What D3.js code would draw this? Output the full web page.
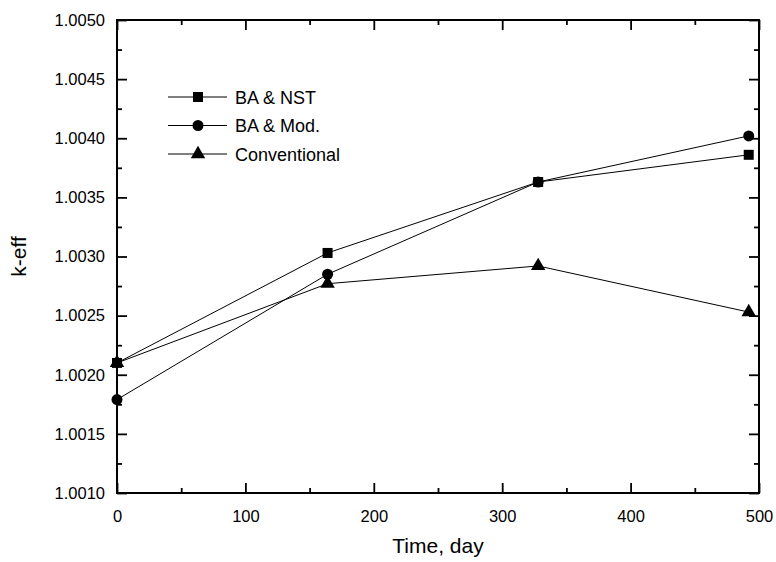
<!DOCTYPE html>
<html>
<head>
<meta charset="utf-8">
<script src="https://cdn.jsdelivr.net/npm/d3@7"></script>
<style>
  body { margin: 0; background: #fff; }
  text { font-family: Arial, "Liberation Sans", sans-serif; fill: #000; }
</style>
</head>
<body>
<div id="chart"></div>
<script>
// data
var days = [0, 164, 328, 492];
var baNst = [1.00210, 1.00303, 1.00363, 1.00386];
var baMod = [1.00179, 1.00285, 1.00363, 1.00402];
var conventional = [1.00210, 1.00277, 1.00292, 1.00253];
var seriesNames = ["BA & NST", "BA & Mod.", "Conventional"];
var xTicks = [0, 100, 200, 300, 400, 500];
var yTicks = [1.0010, 1.0015, 1.0020, 1.0025, 1.0030, 1.0035, 1.0040, 1.0045, 1.0050];

var margin = {top: 20, right: 17, bottom: 69, left: 117},
    width = 776 - margin.left - margin.right,
    height = 562 - margin.top - margin.bottom;

var svg = d3.select("#chart")
  .append("svg")
    .attr("width", 776)
    .attr("height", 562)
  .append("g")
    .attr("transform", "translate(" + margin.left + "," + margin.top + ")");

var x = d3.scaleLinear().domain([0, 500]).range([0, width]);
var y = d3.scaleLinear().domain([1.0010, 1.0050]).range([height, 0]);

// minor ticks
var xMinor = d3.range(50, 500, 100);
var yMinor = d3.range(0, 8).map(function(i) { return 1.00125 + i * 0.0005; });

function tickStyle(g) {
  g.select(".domain").remove();
  g.selectAll(".tick line").attr("stroke", "#000").attr("stroke-width", 1.8);
}

// bottom axis with labels
svg.append("g")
  .attr("transform", "translate(0," + height + ")")
  .call(d3.axisBottom(x).tickValues(xTicks).tickSize(-10).tickPadding(17).tickFormat(d3.format("d")))
  .call(tickStyle)
  .call(function(g) { g.selectAll("text").attr("font-size", 16.5); });
svg.append("g")
  .attr("transform", "translate(0," + height + ")")
  .call(d3.axisBottom(x).tickValues(xMinor).tickSize(-5).tickFormat(""))
  .call(tickStyle);

// top axis
svg.append("g")
  .call(d3.axisTop(x).tickValues(xTicks).tickSize(-10).tickFormat(""))
  .call(tickStyle);
svg.append("g")
  .call(d3.axisTop(x).tickValues(xMinor).tickSize(-5).tickFormat(""))
  .call(tickStyle);

// left axis with labels
svg.append("g")
  .call(d3.axisLeft(y).tickValues(yTicks).tickSize(-10).tickPadding(12).tickFormat(d3.format(".4f")))
  .call(tickStyle)
  .call(function(g) { g.selectAll("text").attr("font-size", 16.5); });
svg.append("g")
  .call(d3.axisLeft(y).tickValues(yMinor).tickSize(-5).tickFormat(""))
  .call(tickStyle);

// right axis
svg.append("g")
  .attr("transform", "translate(" + width + ",0)")
  .call(d3.axisRight(y).tickValues(yTicks).tickSize(-10).tickFormat(""))
  .call(tickStyle);
svg.append("g")
  .attr("transform", "translate(" + width + ",0)")
  .call(d3.axisRight(y).tickValues(yMinor).tickSize(-5).tickFormat(""))
  .call(tickStyle);

// frame
svg.append("rect")
  .attr("width", width)
  .attr("height", height)
  .attr("fill", "none")
  .attr("stroke", "#000")
  .attr("stroke-width", 2);

// axis titles
svg.append("text")
  .attr("x", width / 2)
  .attr("y", height + 60)
  .attr("text-anchor", "middle")
  .attr("font-size", 21)
  .text("Time, day");

svg.append("text")
  .attr("transform", "translate(" + (-91) + "," + (height / 2) + ") rotate(-90)")
  .attr("text-anchor", "middle")
  .attr("font-size", 21)
  .text("k-eff");

var symbols = [d3.symbolSquare, d3.symbolCircle, d3.symbolTriangle];
var symSizes = [100, 95, 90];
var allSeries = [baNst, baMod, conventional];

var line = d3.line()
  .x(function(d, i) { return x(days[i]); })
  .y(function(d) { return y(d); });

allSeries.forEach(function(vals, k) {
  svg.append("path")
    .datum(vals)
    .attr("fill", "none")
    .attr("stroke", "#000")
    .attr("stroke-width", 1)
    .attr("d", line);

  svg.selectAll(".pt" + k)
    .data(vals)
    .enter().append("path")
      .attr("transform", function(d, i) { return "translate(" + x(days[i]) + "," + y(d) + ")"; })
      .attr("d", d3.symbol().type(symbols[k]).size(symSizes[k]))
      .attr("fill", "#000");
});

// legend
var legend = svg.append("g")
  .attr("transform", "translate(51,77)");

seriesNames.forEach(function(name, k) {
  var row = legend.append("g").attr("transform", "translate(0," + (k * 28.5) + ")");
  row.append("line")
    .attr("x1", 0).attr("x2", 59)
    .attr("stroke", "#000").attr("stroke-width", 1);
  row.append("path")
    .attr("transform", "translate(30,0)")
    .attr("d", d3.symbol().type(symbols[k]).size(symSizes[k]))
    .attr("fill", "#000");
  row.append("text")
    .attr("x", 67)
    .attr("y", 6.5)
    .attr("font-size", 18)
    .text(name);
});
</script>
</body>
</html>
